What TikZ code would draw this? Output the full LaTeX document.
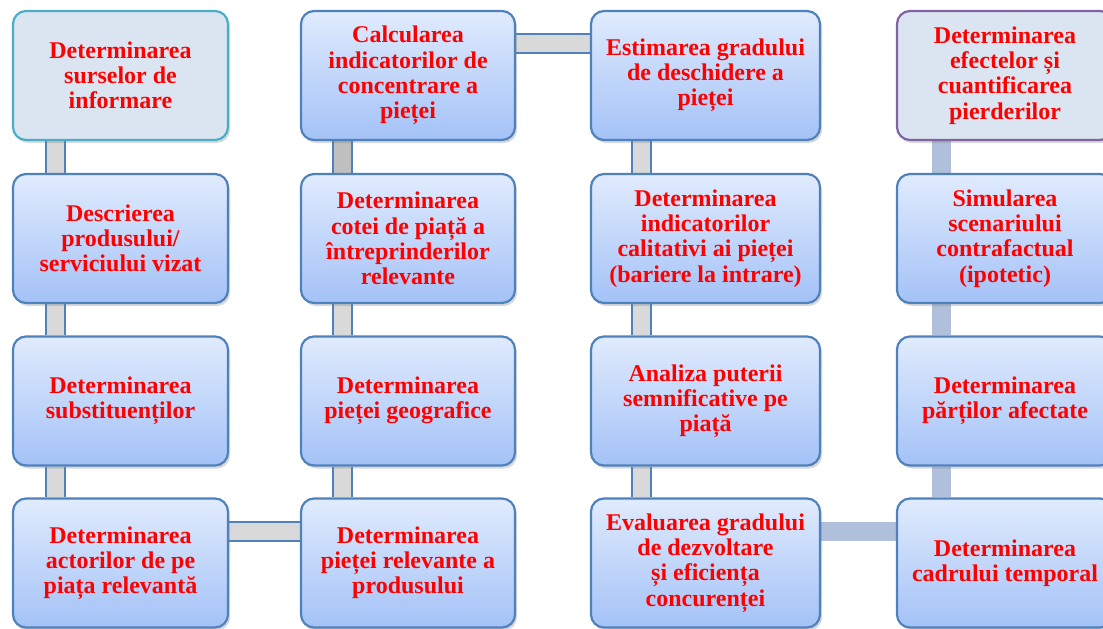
\documentclass[tikz,border=0pt]{standalone}
\usepackage{fontspec}
\setmainfont{Liberation Serif}
\usetikzlibrary{shadows,backgrounds}
\definecolor{boxline}{HTML}{4F81BD}
\definecolor{boxtop}{HTML}{E0EBFD}
\definecolor{boxbot}{HTML}{A4C2F7}
\definecolor{flatfill}{HTML}{DBE5F1}
\definecolor{firstline}{HTML}{4BACC6}
\definecolor{lastline}{HTML}{8064A2}
\definecolor{linkgray}{HTML}{D9D9D9}
\definecolor{linkdark}{HTML}{BFBFBF}
\definecolor{barblue}{HTML}{B0C0DA}

\begin{document}
\begin{tikzpicture}[x=1pt,y=-1pt,
  stage/.style={rectangle,rounded corners=13pt,line width=2.2pt,minimum height=129pt,
    align=center,inner sep=0pt,text=red,font=\bfseries\fontsize{24}{25.2}\selectfont,
    drop shadow={shadow xshift=2pt,shadow yshift=-3pt,opacity=0.3}},
  grad/.style={draw=boxline,top color=boxtop,bottom color=boxbot},
  link/.style={draw=boxline,line width=2pt,double=linkgray,double distance=17pt},
  flat/.style={draw=barblue,line width=19pt}]
  \useasboundingbox (0,0) rectangle (1103,629);
  % first column
  \node[stage,draw=firstline,fill=flatfill,minimum width=215pt] (src) at (120.5,75.5) {Determinarea\\surselor de\\informare};
  \node[stage,grad,minimum width=215pt] (prod) at (120.5,238.5) {Descrierea\\produsului/\\serviciului vizat};
  \node[stage,grad,minimum width=215pt] (subst) at (120.5,401) {Determinarea\\substituenților};
  \node[stage,grad,minimum width=215pt] (act) at (120.5,563) {Determinarea\\actorilor de pe\\piața relevantă};
  % second column
  \node[stage,grad,minimum width=214pt] (relev) at (408,563) {Determinarea\\pieței relevante a\\produsului};
  \node[stage,grad,minimum width=214pt] (geo) at (408,401) {Determinarea\\pieței geografice};
  \node[stage,grad,minimum width=214pt] (cota) at (408,238.5) {Determinarea\\cotei de piață a\\întreprinderilor\\relevante};
  \node[stage,grad,minimum width=214pt] (conc) at (408,75.5) {Calcularea\\indicatorilor de\\concentrare a\\pieței};
  % third column
  \node[stage,grad,minimum width=229pt] (desch) at (705.5,75.5) {Estimarea gradului\\de deschidere a\\pieței};
  \node[stage,grad,minimum width=229pt] (calit) at (705.5,238.5) {Determinarea\\indicatorilor\\calitativi ai pieței\\(bariere la intrare)};
  \node[stage,grad,minimum width=229pt] (putere) at (705.5,401) {Analiza puterii\\semnificative pe\\piață};
  \node[stage,grad,minimum width=229pt] (eval) at (705.5,563) {Evaluarea gradului\\de dezvoltare\\și eficiența\\concurenței};
  % fourth column
  \node[stage,grad,minimum width=216pt] (temp) at (1005,563) {Determinarea\\cadrului temporal};
  \node[stage,grad,minimum width=216pt] (parti) at (1005,401) {Determinarea\\părților afectate};
  \node[stage,grad,minimum width=216pt] (simul) at (1005,238.5) {Simularea\\scenariului\\contrafactual\\(ipotetic)};
  \node[stage,draw=lastline,fill=flatfill,minimum width=216pt] (efecte) at (1005,75.5) {Determinarea\\efectelor și\\cuantificarea\\pierderilor};
  \begin{scope}[on background layer]
    \draw[link] ([xshift=43.5pt]src.south west) -- ([xshift=43.5pt]prod.north west);
    \draw[link] ([xshift=43.5pt]prod.south west) -- ([xshift=43.5pt]subst.north west);
    \draw[link] ([xshift=43.5pt]subst.south west) -- ([xshift=43.5pt]act.north west);
    \draw[link] ([yshift=32pt]act.east) -- ([yshift=32pt]relev.west);
    \draw[link] ([xshift=43pt]relev.north west) -- ([xshift=43pt]geo.south west);
    \draw[link] ([xshift=43pt]geo.north west) -- ([xshift=43pt]cota.south west);
    \draw[link,double=linkdark] ([xshift=43pt]cota.north west) -- ([xshift=43pt]conc.south west);
    \draw[link] ([yshift=32pt]conc.east) -- ([yshift=32pt]desch.west);
    \draw[link] ([xshift=52pt]desch.south west) -- ([xshift=52pt]calit.north west);
    \draw[link] ([xshift=52pt]calit.south west) -- ([xshift=52pt]putere.north west);
    \draw[link] ([xshift=52pt]putere.south west) -- ([xshift=52pt]eval.north west);
    \draw[flat] ([yshift=32pt]eval.east) -- ([yshift=32pt]temp.west);
    \draw[flat] ([xshift=45.5pt]temp.north west) -- ([xshift=45.5pt]parti.south west);
    \draw[flat] ([xshift=45.5pt]parti.north west) -- ([xshift=45.5pt]simul.south west);
    \draw[flat] ([xshift=45.5pt]simul.north west) -- ([xshift=45.5pt]efecte.south west);
  \end{scope}
\end{tikzpicture}
\end{document}
